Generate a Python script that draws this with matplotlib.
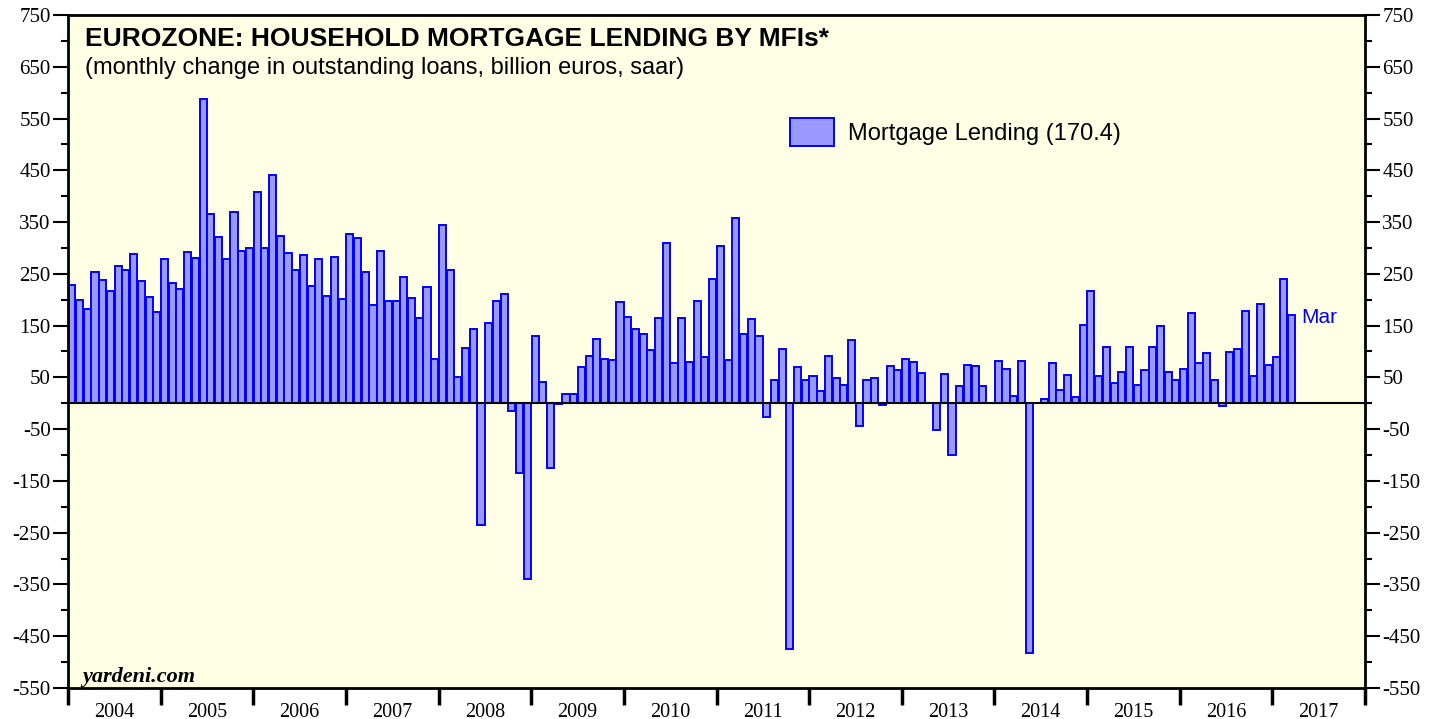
import numpy as np
import matplotlib
matplotlib.use("Agg")
import matplotlib.pyplot as plt
from matplotlib.patches import Patch

plt.rcParams["axes.unicode_minus"] = False

years = [str(y) for y in range(2004, 2018)]
lending = [
    229, 199, 182, 254, 238, 216, 266, 258, 288, 237, 206, 177,   # 2004
    278, 232, 220, 293, 280, 588, 365, 322, 278, 370, 295, 299,   # 2005
    408, 300, 440, 323, 291, 257, 286, 227, 278, 207, 282, 202,   # 2006
    327, 320, 254, 189, 295, 197, 197, 244, 204, 164, 225, 86,    # 2007
    344, 258, 50, 106, 144, -235, 155, 198, 211, -15, -135, -340, # 2008
    130, 42, -125, -2, 18, 18, 70, 92, 124, 86, 84, 195,          # 2009
    167, 143, 133, 102, 165, 310, 78, 165, 80, 197, 90, 240,      # 2010
    304, 83, 357, 134, 162, 130, -26, 44, 104, -475, 71, 45,      # 2011
    53, 23, 91, 48, 35, 123, -43, 44, 49, -4, 72, 64,             # 2012
    86, 79, 59, 0, -52, 56, -99, 34, 73, 72, 34, 0,               # 2013
    81, 66, 15, 82, -483, 0, 8, 78, 25, 54, 12, 151,              # 2014
    216, 52, 109, 39, 61, 109, 36, 64, 109, 149, 60, 44,          # 2015
    66, 174, 78, 97, 44, -5, 99, 105, 178, 52, 191, 73,           # 2016
    90, 241, 170.4,                                               # 2017
]
yticks_major = list(range(-550, 751, 100))
legend_label = "Mortgage Lending (170.4)"
last_label = "Mar"

fig = plt.figure(figsize=(14.4, 7.19), dpi=100)
ax = fig.add_axes([68/1440, 1-688/719, (1365-68)/1440, (688-15)/719])
ax.set_facecolor("#FFFFE6")

x = np.arange(len(lending)) + 0.5
ax.bar(x, lending, width=0.92, color="#9999FF", edgecolor="#0000FF", linewidth=1.4, zorder=2)
ax.axhline(0, color="black", linewidth=1.5, zorder=3)

ax.set_xlim(0, 12*len(years))
ax.set_ylim(-550, 750)

serif = ["Liberation Serif", "DejaVu Serif"]
sans = ["Liberation Sans", "DejaVu Sans"]

ax.set_yticks(yticks_major)
ax.set_yticks(list(range(-500, 751, 100)), minor=True)
ax.tick_params(axis="y", which="both", left=True, right=True, labelleft=True, labelright=True,
               direction="out", width=1.5)
ax.tick_params(axis="y", which="major", length=11, labelsize=15, pad=1.5)
ax.tick_params(axis="y", which="minor", length=5)
for lab in ax.get_yticklabels():
    lab.set_fontfamily(serif)

ax.set_xticks(np.arange(0, 12*len(years)+1, 12))
ax.set_xticklabels([])
ax.set_xticks(np.arange(6, 12*len(years), 12), minor=True)
ax.set_xticklabels(years, minor=True, fontfamily=serif, fontsize=14.5)
ax.tick_params(axis="x", which="major", direction="out", length=12, width=2.5)
ax.tick_params(axis="x", which="minor", length=0, pad=10.5)

for s in ax.spines.values():
    s.set_linewidth(2)

ax.text(0.013, 0.982, "EUROZONE: HOUSEHOLD MORTGAGE LENDING BY MFIs*", transform=ax.transAxes,
        fontsize=19, fontweight="bold", fontfamily=sans, va="top", ha="left")
ax.text(0.013, 0.937, "(monthly change in outstanding loans, billion euros, saar)", transform=ax.transAxes,
        fontsize=17, fontfamily=sans, va="top", ha="left")
ax.text(0.011, 0.002, "yardeni.com", transform=ax.transAxes, fontsize=16, fontweight="bold",
        fontstyle="italic", fontfamily=serif, va="bottom", ha="left")

ax.text(x[-1] + 1.2, lending[-1] - 5, last_label, color="#0000FF", fontsize=15, fontfamily=sans,
        va="center", ha="left")

handle = Patch(facecolor="#9999FF", edgecolor="#0000FF", linewidth=1.4)
leg = ax.legend([handle], [legend_label], loc="upper left", bbox_to_anchor=(0.544, 0.871),
                frameon=False, prop={"family": sans, "size": 17}, handlelength=1.85, handleheight=1.4,
                handletextpad=0.6, borderpad=0.2)

fig.savefig("out.png", dpi=100, facecolor="white")
